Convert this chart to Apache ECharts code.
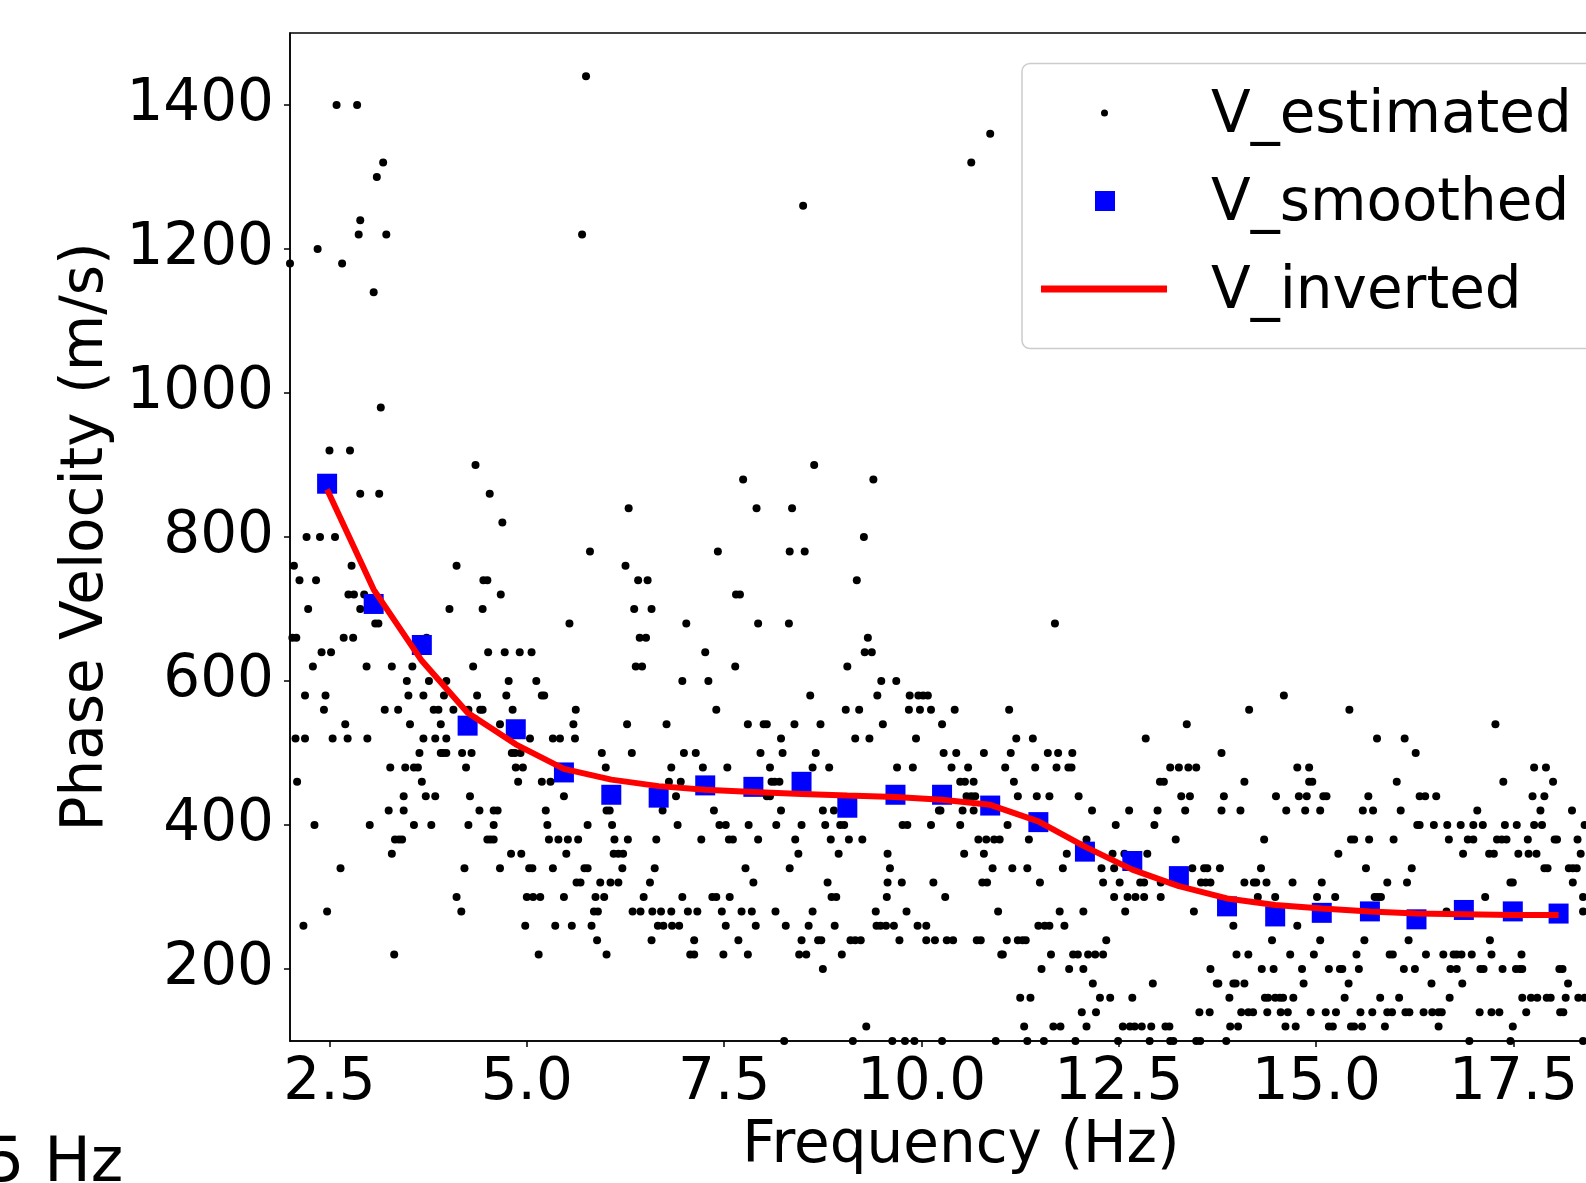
<!DOCTYPE html>
<html>
<head>
<meta charset="utf-8">
<title>Phase velocity</title>
<script src="https://cdn.jsdelivr.net/npm/echarts@6/dist/echarts.min.js"></script>
<style>
  html, body { margin: 0; padding: 0; background: #fff; overflow: hidden; }
  #main { width: 1700px; height: 1183px; }
</style>
</head>
<body>
<div id="main"></div>
<script>
// tick labels
const freqTicks = [2.5, 5.0, 7.5, 10.0, 12.5, 15.0, 17.5];
const velTicks = [200, 400, 600, 800, 1000, 1200, 1400];

// smoothed / inverted curves, same frequency samples
const smoothedFreq = [2.47, 3.06, 3.67, 4.25, 4.86, 5.47, 6.07, 6.67, 7.26, 7.87, 8.48, 9.06, 9.67, 10.26,
  10.87, 11.48, 12.07, 12.67, 13.26, 13.87, 14.48, 15.07, 15.68, 16.27, 16.87, 17.49, 18.07];
const smoothedVel = [874, 707, 650, 538, 533, 473, 442, 438, 455, 453, 460, 424, 442, 442,
  427, 404, 363, 350, 329, 287, 273, 278, 280, 269, 282, 280, 277];
const invertedVel = [866, 727, 628, 556, 512, 478, 463, 454, 449, 446, 443, 441, 439, 435,
  428, 405, 370, 338, 315, 298, 289, 284, 280, 277, 276, 275, 275];

// estimated picks: [velocity, [frequencies...]]
const estimatedRows = [
  [1440, [5.75]],
  [1400, [2.59, 2.85]],
  [1360, [10.87]],
  [1320, [3.18, 10.63]],
  [1300, [3.10]],
  [1260, [8.50]],
  [1240, [2.89]],
  [1220, [2.87, 3.22, 5.70]],
  [1200, [2.35]],
  [1180, [2.00, 2.66]],
  [1140, [3.06]],
  [980, [3.15]],
  [920, [2.50, 2.76]],
  [900, [4.35, 8.64]],
  [880, [7.74, 9.39]],
  [860, [2.89, 3.13, 4.53]],
  [840, [6.29, 7.91, 8.36]],
  [820, [4.69]],
  [800, [2.21, 2.38, 2.57, 9.27]],
  [780, [5.80, 7.42, 8.33, 8.52]],
  [760, [2.05, 2.78, 4.11, 6.25]],
  [740, [2.12, 2.33, 4.45, 4.50, 6.41, 6.53, 9.18]],
  [720, [2.74, 2.81, 2.94, 4.67, 7.65, 7.70]],
  [700, [2.23, 2.89, 4.02, 4.44, 6.36, 6.58]],
  [680, [3.08, 3.12, 5.54, 7.02, 7.93, 8.32, 11.69]],
  [660, [2.03, 2.08, 2.68, 2.80, 3.73, 6.43, 6.51, 9.32]],
  [640, [2.40, 2.52, 4.51, 4.72, 4.91, 5.06, 7.26, 9.28, 9.37]],
  [620, [2.29, 2.97, 3.29, 3.55, 4.32, 6.38, 6.46, 7.64, 9.06]],
  [600, [3.48, 3.76, 3.98, 4.77, 5.12, 6.97, 7.30, 9.49, 9.68]],
  [580, [2.19, 2.45, 3.50, 3.69, 3.95, 4.37, 4.74, 5.19, 5.22, 8.59, 9.44, 9.85, 9.96, 10.02, 10.08, 14.59]],
  [560, [2.43, 3.20, 3.37, 3.82, 3.88, 4.07, 4.26, 4.41, 4.44, 4.82, 5.62, 7.40, 9.04, 9.21, 9.84, 9.98,
    10.12, 10.42, 11.11, 14.15, 15.42]],
  [540, [2.70, 3.52, 3.91, 4.66, 5.59, 6.27, 6.77, 7.80, 8.00, 8.04, 8.39, 8.72, 9.51, 10.26, 13.36, 17.27]],
  [520, [2.07, 2.19, 2.54, 2.73, 2.98, 3.69, 3.84, 3.98, 5.04, 5.33, 5.42, 5.61, 8.22, 9.16, 9.34, 9.93,
    11.20, 11.41, 12.84, 15.77, 16.12]],
  [500, [3.64, 3.91, 3.94, 3.98, 4.18, 4.30, 4.81, 4.85, 4.92, 5.95, 6.33, 6.99, 7.14, 7.96, 8.24, 8.66,
    10.28, 10.44, 10.79, 11.13, 11.60, 11.73, 11.91, 13.80, 16.26]],
  [480, [3.27, 3.46, 3.57, 3.62, 4.23, 4.86, 4.95, 6.00, 6.83, 7.23, 7.54, 8.08, 8.62, 8.83, 9.69, 9.89,
    10.38, 10.59, 11.06, 11.44, 11.71, 11.86, 11.90, 13.15, 13.26, 13.38, 13.48, 14.76, 14.91, 17.76, 17.91]],
  [460, [2.09, 3.67, 4.89, 5.19, 5.30, 6.80, 6.95, 8.10, 8.14, 8.20, 10.49, 10.55, 10.66, 11.17, 13.02,
    13.07, 14.09, 14.91, 14.95, 16.02, 17.37, 18.00]],
  [440, [3.44, 3.72, 3.84, 4.28, 5.47, 6.89, 8.04, 8.08, 10.57, 10.63, 10.68, 11.22, 11.46, 11.62, 11.99,
    13.29, 13.40, 13.83, 14.49, 14.78, 14.88, 15.09, 15.13, 15.66, 16.31, 16.38, 16.52, 17.74, 17.89]],
  [420, [3.25, 3.44, 4.40, 4.58, 4.63, 5.24, 6.01, 6.05, 6.72, 7.37, 8.22, 8.75, 8.89, 10.22, 10.24, 10.52,
    10.66, 12.16, 12.63, 12.99, 13.34, 13.80, 14.04, 14.62, 14.86, 15.05, 15.59, 15.72, 16.07, 17.04,
    17.84, 18.24]],
  [400, [2.31, 3.01, 3.57, 3.79, 4.26, 4.58, 5.26, 5.77, 6.08, 6.91, 7.44, 7.52, 7.81, 8.16, 8.48, 8.78,
    8.97, 9.02, 9.76, 9.82, 10.12, 10.49, 11.09, 12.46, 12.95, 16.28, 16.31, 16.49, 16.66, 16.83, 16.99,
    17.11, 17.39, 17.54, 17.76, 17.86, 18.40]],
  [380, [3.33, 3.38, 3.42, 4.50, 4.54, 4.58, 5.28, 5.40, 5.52, 5.65, 6.11, 6.28, 6.64, 7.21, 7.56, 7.61,
    7.93, 8.40, 8.85, 9.08, 9.25, 10.72, 10.82, 10.92, 10.99, 11.36, 12.09, 13.22, 14.34, 15.44, 15.48,
    15.67, 15.98, 16.68, 16.92, 16.99, 17.29, 17.35, 17.41, 17.68, 18.02, 18.05, 18.31]],
  [360, [3.29, 4.80, 4.93, 5.50, 6.10, 6.16, 6.22, 8.44, 8.95, 9.57, 10.54, 10.79, 11.84, 12.42, 12.57,
    12.86, 15.28, 16.86, 17.19, 17.25, 17.56, 17.69, 17.79, 18.35]],
  [340, [2.64, 4.21, 4.66, 5.03, 5.07, 5.33, 5.73, 5.77, 6.21, 6.62, 7.77, 8.33, 9.60, 10.90, 11.15, 11.34,
    11.79, 12.28, 12.44, 13.43, 13.58, 13.62, 13.78, 14.30, 15.63, 16.21, 17.89, 17.93, 18.20, 18.25, 18.30]],
  [320, [5.63, 5.68, 5.93, 6.06, 6.16, 6.56, 7.87, 8.81, 9.57, 9.75, 10.15, 10.77, 10.83, 11.50, 12.30,
    12.51, 12.77, 12.82, 13.03, 13.54, 13.60, 13.66, 14.09, 14.21, 14.24, 14.37, 14.70, 15.07, 15.90,
    16.15, 17.46, 17.49, 18.25]],
  [300, [4.11, 5.00, 5.08, 5.17, 5.47, 5.87, 5.98, 6.48, 6.97, 7.35, 7.40, 7.57, 8.86, 8.92, 9.56, 10.30,
    12.44, 12.61, 12.71, 12.82, 13.03, 14.26, 14.48, 15.01, 15.24, 15.74, 15.78, 15.82, 17.14, 18.38]],
  [280, [2.47, 4.17, 5.85, 5.90, 6.34, 6.44, 6.59, 6.70, 6.83, 7.04, 7.16, 7.47, 7.72, 7.85, 8.15, 8.62,
    9.42, 9.81, 10.97, 11.75, 12.05, 12.58, 13.45, 16.65, 18.38]],
  [260, [2.17, 4.98, 5.36, 5.57, 5.82, 6.66, 6.73, 6.84, 6.93, 7.52, 7.90, 8.28, 8.57, 8.90, 9.43, 9.48,
    9.55, 9.65, 9.95, 10.06, 11.48, 11.56, 11.62, 11.81, 13.95, 14.76]],
  [240, [5.89, 6.58, 7.12, 7.68, 8.48, 8.69, 8.73, 9.10, 9.16, 9.23, 9.72, 10.06, 10.17, 10.32, 10.40,
    10.70, 10.75, 11.08, 11.22, 11.28, 11.32, 12.34, 14.44, 15.05, 15.61, 16.17, 17.20]],
  [220, [3.32, 5.15, 6.01, 7.07, 7.12, 7.49, 7.80, 8.45, 8.54, 8.99, 11.01, 11.03, 11.64, 11.92, 11.98,
    12.11, 12.20, 12.30, 13.99, 14.14, 14.67, 14.97, 15.51, 15.93, 15.97, 16.39, 16.61, 16.74, 16.78,
    16.84, 16.97, 17.22, 17.60]],
  [200, [8.75, 11.52, 11.87, 12.05, 13.66, 14.31, 14.46, 14.82, 15.16, 15.30, 15.33, 15.54, 16.11, 16.25,
    16.70, 16.78, 17.08, 17.12, 17.36, 17.53, 17.58, 17.61, 18.08, 18.12]],
  [180, [12.17, 12.93, 13.74, 13.76, 13.95, 13.98, 14.09, 14.84, 15.41, 16.46, 16.85, 18.19]],
  [160, [11.25, 11.38, 12.26, 12.39, 12.67, 13.90, 14.35, 14.39, 14.48, 14.54, 14.58, 14.71, 15.36, 15.81,
    16.05, 16.69, 17.61, 17.72, 17.80, 17.92, 17.97, 18.16, 18.32, 18.40]],
  [140, [12.03, 12.21, 13.52, 13.65, 14.05, 14.14, 14.20, 14.38, 14.55, 14.64, 14.93, 15.12, 15.25, 15.56,
    15.71, 15.90, 15.96, 16.13, 16.18, 16.36, 16.47, 16.55, 16.59, 17.07, 17.22, 17.32, 17.66, 18.09, 18.13]],
  [120, [9.30, 11.30, 11.67, 11.76, 12.09, 12.55, 12.64, 12.70, 12.79, 12.91, 13.09, 13.14, 13.91, 14.01,
    14.61, 14.74, 15.16, 15.21, 15.44, 15.48, 15.58, 15.87, 16.55, 17.49]],
  [100, [8.26, 9.13, 9.63, 9.79, 9.91, 10.26, 10.94, 11.34, 11.55, 11.95, 12.49, 12.89, 13.15, 13.19, 13.48,
    13.53, 13.86, 16.94, 17.46, 18.38]]
];

const FONT = 'DejaVu Sans';
const FS = 58;

let estimated = [];
estimatedRows.forEach(([v, freqs]) => {
  freqs.forEach(f => estimated.push([f, v]));
});
const smoothed = smoothedFreq.map((f, i) => [f, smoothedVel[i]]);
const inverted = smoothedFreq.map((f, i) => [f, invertedVel[i]]);

const chart = echarts.init(document.getElementById('main'));

const axisCommon = {
  type: 'value',
  nameLocation: 'middle',
  nameTextStyle: { fontFamily: FONT, fontSize: FS, color: '#000' },
  axisLine: { show: true, lineStyle: { color: '#000', width: 1.5 } },
  splitLine: { show: false }
};

// rich token with top padding: nudges the label a few px below its icon centre
const legendText = (pad) => ({
  fontFamily: FONT, fontSize: FS, color: '#000', padding: [0, 0, 0, pad],
  rich: { t: { fontFamily: FONT, fontSize: FS, color: '#000', padding: [8, 0, 0, 0] } }
});

chart.setOption({
  animation: false,
  backgroundColor: '#fff',
  grid: {
    left: 290, top: 33, width: 1342, height: 1008,
    containLabel: false, outerBoundsMode: 'none',
    show: true, borderColor: '#000', borderWidth: 1.5
  },
  xAxis: Object.assign({}, axisCommon, {
    min: 2, max: 19,
    name: 'Frequency (Hz)',
    nameGap: 76,
    axisTick: { customValues: freqTicks, length: 6, lineStyle: { color: '#000', width: 1.5 } },
    axisLabel: {
      customValues: freqTicks, margin: 14,
      fontFamily: FONT, fontSize: FS, color: '#000',
      formatter: v => v.toFixed(1)
    }
  }),
  yAxis: Object.assign({}, axisCommon, {
    min: 100, max: 1500,
    name: 'Phase Velocity (m/s)',
    nameGap: 165,
    axisTick: { customValues: velTicks, length: 6, lineStyle: { color: '#000', width: 1.5 } },
    axisLabel: {
      customValues: velTicks, margin: 16,
      fontFamily: FONT, fontSize: FS, color: '#000',
      formatter: v => String(v)
    }
  }),
  legend: [
    {
      data: ['V_estimated'], left: 1101, top: 88, padding: 0, z: 10,
      itemWidth: 7, itemHeight: 7, icon: 'circle', selectedMode: false,
      itemStyle: { opacity: 1 },
      formatter: '{t|{name}}',
      textStyle: legendText(98)
    },
    {
      data: ['V_smoothed'], left: 1095, top: 176, padding: 0, z: 10,
      itemWidth: 20, itemHeight: 20, icon: 'rect', selectedMode: false,
      itemStyle: { opacity: 1 },
      formatter: '{t|{name}}',
      textStyle: legendText(91)
    },
    {
      data: ['V_inverted'], left: 1041, top: 264, padding: 0, z: 10,
      itemWidth: 126, itemHeight: 7, icon: 'path://M0,0H126V7H0Z', selectedMode: false,
      itemStyle: { color: '#ff0000', opacity: 1 },
      formatter: '{t|{name}}',
      textStyle: legendText(39)
    }
  ],
  graphic: [
    {
      type: 'rect', z: 5,
      shape: { x: 1022, y: 63.5, width: 700, height: 285, r: 8 },
      style: { fill: 'rgba(255,255,255,0.8)', stroke: '#cccccc', lineWidth: 1.5 }
    },
    {
      // label of the neighbouring panel, cut by the crop
      type: 'text', left: -15, top: 1134, z: 5,
      style: { text: '5 Hz', fontFamily: FONT, fontSize: 62, fill: '#000' }
    }
  ],
  series: [
    {
      name: 'V_estimated',
      type: 'scatter',
      data: estimated,
      symbol: 'circle',
      symbolSize: 8,
      itemStyle: { color: '#000', opacity: 1 },
      z: 2
    },
    {
      name: 'V_smoothed',
      type: 'scatter',
      data: smoothed,
      symbol: 'rect',
      symbolSize: 20,
      itemStyle: { color: '#0000ff', opacity: 1 },
      z: 3
    },
    {
      name: 'V_inverted',
      type: 'line',
      data: inverted,
      showSymbol: false,
      symbol: 'none',
      lineStyle: { color: '#ff0000', width: 6 },
      itemStyle: { color: '#ff0000' },
      z: 4
    }
  ]
});
</script>
</body>
</html>
